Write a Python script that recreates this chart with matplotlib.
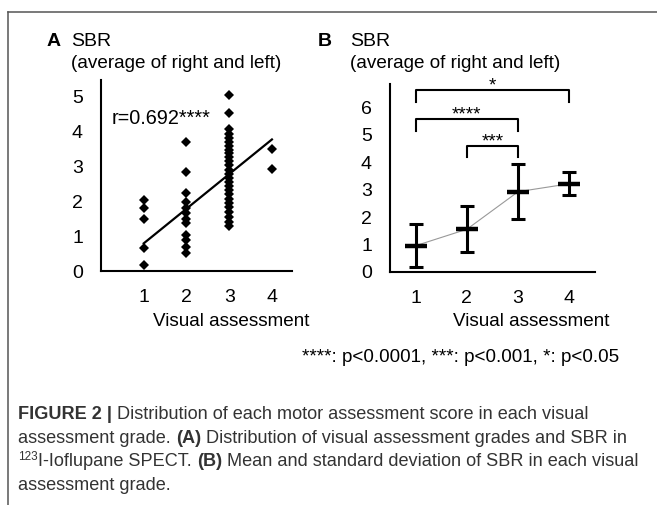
import numpy as np
import matplotlib
matplotlib.use("Agg")
import matplotlib.pyplot as plt
from matplotlib import font_manager
from matplotlib.lines import Line2D

# ---------------- data ----------------
grades = [1, 2, 3, 4]
sbr_grade1 = [0.17, 0.65, 1.50, 1.79, 2.03]
sbr_grade2 = [3.69, 2.84, 2.22, 1.98, 1.79, 1.65, 1.50, 1.36, 1.03, 0.89, 0.69, 0.52]
sbr_grade3 = [5.04, 4.53, 4.05, 3.92, 3.80, 3.68, 3.58, 3.47, 3.36, 3.25, 3.14, 3.02,
              2.90, 2.78, 2.66, 2.55, 2.43, 2.31, 2.19, 2.07, 1.95, 1.82, 1.68, 1.55,
              1.41, 1.28]
sbr_grade4 = [3.50, 2.93]
fit_x = [1, 4]
fit_y = [0.79, 3.76]
r_label = "r=0.692****"

mean_sbr = [0.96, 1.56, 2.93, 3.22]
sd_sbr = [0.78, 0.84, 1.01, 0.42]
brackets = [(1, 4, "*"), (1, 3, "****"), (2, 3, "***")]
bracket_y = [6.64, 5.57, 4.61]
bracket_drop = [0.42, 0.41, 0.42]

yticks_a = [0, 1, 2, 3, 4, 5]
yticks_b = [0, 1, 2, 3, 4, 5, 6]

# ---------------- style ----------------
W, H = 657, 505
DPI = 100
plt.rcParams['font.family'] = ['Liberation Sans', 'DejaVu Sans']
names = {f.name for f in font_manager.fontManager.ttflist}
cap_family = 'Liberation Sans Narrow' if 'Liberation Sans Narrow' in names else 'Liberation Sans'

fig = plt.figure(figsize=(W / DPI, H / DPI), dpi=DPI)

def fx(px):
    return px / W

def fy(py):
    return 1 - py / H

FS = 14

# frame
fig.add_artist(Line2D([fx(8), 1], [fy(12), fy(12)], color='#555555', lw=1.1))
fig.add_artist(Line2D([fx(8), fx(8)], [fy(12), 0], color='#555555', lw=1.1))

# ---------------- panel A ----------------
axA = fig.add_axes([fx(101), fy(271), fx(292) - fx(101), fy(80) - fy(271)])
for g, vals in zip(grades, [sbr_grade1, sbr_grade2, sbr_grade3, sbr_grade4]):
    axA.plot(np.full(len(vals), g), vals, linestyle='none', marker='D',
             markersize=5.2, color='black', markeredgewidth=0)
axA.plot(fit_x, fit_y, color='black', lw=1.6)
axA.set_xlim(0, 4.47)
axA.set_ylim(0, 5.46)
axA.text(0.25, 4.37, r_label, fontsize=14.3, ha='left', va='center')
axA.set_xticks(grades)
axA.set_yticks(yticks_a)

# ---------------- panel B ----------------
axB = fig.add_axes([fx(390), fy(272), fx(595) - fx(390), fy(84) - fy(272)])
axB.plot(grades, mean_sbr, color='#999999', lw=0.8, zorder=1)
axB.errorbar(grades, mean_sbr, yerr=sd_sbr, fmt='none', ecolor='black',
             elinewidth=2.2, capsize=4.9, capthick=2.2, zorder=2)
axB.plot(grades, mean_sbr, linestyle='none', marker='_', markersize=16,
         markeredgewidth=3.2, color='black', zorder=3)
for (a, b, lab), yb, dr in zip(brackets, bracket_y, bracket_drop):
    axB.plot([a, a, b, b], [yb - dr, yb, yb, yb - dr], color='black', lw=1.5,
             clip_on=False)
    axB.text((a + b) / 2, yb - 0.02, lab, ha='center', va='baseline', fontsize=13.5,
             clip_on=False)
axB.set_xlim(0.5, 4.5)
axB.set_ylim(0, 6.86)
axB.set_xticks(grades)
axB.set_yticks(yticks_b)

for ax in (axA, axB):
    for s in ('top', 'right'):
        ax.spines[s].set_visible(False)
    for s in ('left', 'bottom'):
        ax.spines[s].set_linewidth(1.5)
        ax.spines[s].set_color('black')
    ax.tick_params(axis='both', length=0, labelsize=FS)
    ax.tick_params(axis='y', pad=13)
    ax.tick_params(axis='x', pad=13)

# ---------------- labels ----------------
fig.text(fx(53.5), fy(41), "A", fontsize=FS, fontweight='bold', ha='center', va='center')
fig.text(fx(71), fy(41), "SBR", fontsize=FS, ha='left', va='center')
fig.text(fx(71), fy(63), "(average of right and left)", fontsize=13.6, ha='left', va='center')
fig.text(fx(324.5), fy(42), "B", fontsize=FS, fontweight='bold', ha='center', va='center')
fig.text(fx(350), fy(42), "SBR", fontsize=FS, ha='left', va='center')
fig.text(fx(350), fy(63), "(average of right and left)", fontsize=13.6, ha='left', va='center')

fig.text(fx(153), fy(321), "Visual assessment", fontsize=13.6, ha='left', va='center')
fig.text(fx(453), fy(321), "Visual assessment", fontsize=13.6, ha='left', va='center')
fig.text(fx(302), fy(358), "****: p<0.0001, ***: p<0.001, *: p<0.05", fontsize=13.6,
         ha='left', va='center')

# ---------------- caption (rich text) ----------------
renderer = fig.canvas.get_renderer()
CAP_FS = 13.5 if cap_family != 'Liberation Sans' else 13.1
CAP_COLOR = '#333333'

def space_width(weight, size):
    t1 = fig.text(0, 0, "x x", fontsize=size, fontweight=weight, family=cap_family)
    t2 = fig.text(0, 0, "xx", fontsize=size, fontweight=weight, family=cap_family)
    w = t1.get_window_extent(renderer).width - t2.get_window_extent(renderer).width
    t1.remove(); t2.remove()
    return w

SPW = space_width('normal', CAP_FS)

def rich_line(x0, baseline, segments):
    x = x0
    for text, weight, sup in segments:
        if text == " ":
            x += SPW
            continue
        size = CAP_FS * 0.65 if sup else CAP_FS
        yb = baseline - (6 if sup else 0)
        t = fig.text(fx(x), fy(yb), text, fontsize=size, fontweight=weight,
                     family=cap_family, color=CAP_COLOR, ha='left', va='baseline')
        bb = t.get_window_extent(renderer)
        x = bb.x1 + 0.3

S = (" ", 'normal', False)
caption = [
    [("FIGURE 2 |", 'bold', False), S, ("Distribution of each motor assessment score in each visual", 'normal', False)],
    [("assessment grade.", 'normal', False), S, ("(A)", 'bold', False), S,
     ("Distribution of visual assessment grades and SBR in", 'normal', False)],
    [("123", 'normal', True), ("I-Ioflupane SPECT.", 'normal', False), S, ("(B)", 'bold', False), S,
     ("Mean and standard deviation of SBR in each visual", 'normal', False)],
    [("assessment grade.", 'normal', False)],
]
for i, segs in enumerate(caption):
    rich_line(18, 419 + 23.7 * i, segs)

fig.savefig("out.png", dpi=DPI)
